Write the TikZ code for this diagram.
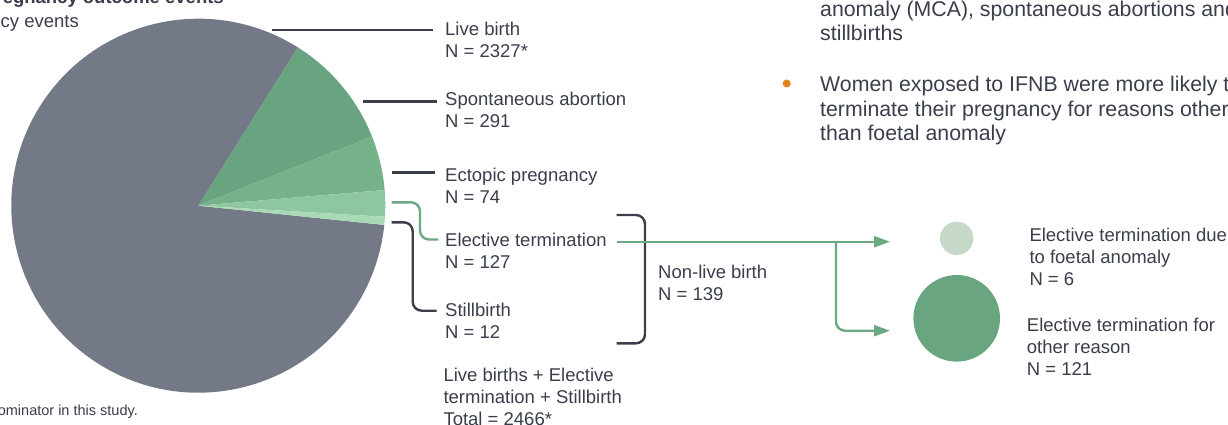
\documentclass[tikz,border=0pt]{standalone}
\usepackage{fontspec}
\setmainfont{Liberation Sans}
\usetikzlibrary{arrows.meta}
\definecolor{textGrey}{HTML}{3A3E4C}
\definecolor{lineGrey}{HTML}{3B3F4C}
\definecolor{lineGreen}{HTML}{6AA981}
\definecolor{pieGrey}{HTML}{737986}
\definecolor{pieGreenA}{HTML}{68A47F}
\definecolor{pieGreenB}{HTML}{75B28A}
\definecolor{pieGreenC}{HTML}{8EC79F}
\definecolor{pieGreenD}{HTML}{A7DAB5}
\definecolor{dotLight}{HTML}{C6D8C7}
\definecolor{dotDark}{HTML}{69A680}
\definecolor{bulletOrange}{HTML}{E5811C}

\begin{document}
\begin{tikzpicture}[x=1pt, y=-1pt,
    labelStyle/.style={anchor=north west, inner sep=0pt, align=left, text=textGrey, font=\fontsize{18.5}{21.7}\selectfont},
    bulletStyle/.style={anchor=north west, inner sep=0pt, align=left, text=textGrey, font=\fontsize{21.3}{24.5}\selectfont},
    leaderStyle/.style={draw=lineGrey, line width=2.4pt},
    greenStyle/.style={draw=lineGreen, line width=2.4pt},
    arrowStyle/.style={greenStyle, -{Triangle[length=16pt, width=11pt]}},
    dotStyle/.style={circle, inner sep=0pt}]
    \useasboundingbox (0,0) rectangle (1228,425);
    \clip (0,0) rectangle (1228,425);

    % pie
    \begin{scope}[shift={(198.3,205.7)}, x=1pt, y=1pt]
        \fill[pieGrey]   (0,0) -- (57.8:187pt) arc[start angle=57.8, end angle=354.1, radius=187pt] -- cycle;
        \fill[pieGreenA] (0,0) -- (21.7:187pt) arc[start angle=21.7, end angle=57.8, radius=187pt] -- cycle;
        \fill[pieGreenB] (0,0) -- (4.8:187pt)  arc[start angle=4.8, end angle=21.7, radius=187pt] -- cycle;
        \fill[pieGreenC] (0,0) -- (-3.4:187pt) arc[start angle=-3.4, end angle=4.8, radius=187pt] -- cycle;
        \fill[pieGreenD] (0,0) -- (-5.9:187pt) arc[start angle=-5.9, end angle=-3.4, radius=187pt] -- cycle;
    \end{scope}

    \node[anchor=base east, inner sep=0pt, text=textGrey, font=\fontsize{18.5}{21.7}\selectfont\bfseries] (title) at (224,3.3) {Pregnancy outcome events};
    \node[anchor=base east, inner sep=0pt, text=textGrey, font=\fontsize{18.5}{21.7}\selectfont] (subtitle) at (79,27.3) {Pregnancy events};
    \node[anchor=base east, inner sep=0pt, text=textGrey, font=\fontsize{14.5}{16}\selectfont] (note) at (138,415) {denominator in this study.};

    % labels
    \node[labelStyle] (live_lbl)  at (445,21.7)    {Live birth\\N = 2327*};
    \node[labelStyle] (spont_lbl) at (445,91.7)    {Spontaneous abortion\\N = 291};
    \node[labelStyle] (ecto_lbl)  at (445,168.3)   {Ectopic pregnancy\\N = 74};
    \node[labelStyle] (elec_lbl)  at (445,233.3)   {Elective termination\\N = 127};
    \node[labelStyle] (still_lbl) at (445,302.7)   {Stillbirth\\N = 12};
    \node[labelStyle] (nonlive_lbl) at (658,265)   {Non-live birth\\N = 139};
    \node[labelStyle] (total_lbl) at (443.3,368.3) {Live births + Elective\\termination + Stillbirth\\Total = 2466*};

    \coordinate (live_S)  at (272,30);    \coordinate (live_E)  at (433.3,30);
    \coordinate (spont_S) at (363.3,101.7); \coordinate (spont_E) at (436.7,101.7);
    \coordinate (ecto_S)  at (391.7,172.3); \coordinate (ecto_E)  at (435,172.3);
    \coordinate (elec_S)  at (391.7,202.3); \coordinate (elec_E)  at (438.3,239.5);
    \coordinate (still_S) at (391.7,222.3); \coordinate (still_E) at (436.7,310.7);

    \draw[leaderStyle] (live_S) -- (live_E);
    \draw[leaderStyle] (spont_S) -- (spont_E);
    \draw[leaderStyle] (ecto_S) -- (ecto_E);
    \draw[greenStyle, rounded corners=9pt] (elec_S) -- (420,202.3) -- (420,239.5) -- (elec_E);
    \draw[leaderStyle, rounded corners=9pt] (still_S) -- (412.7,222.3) -- (412.7,310.7) -- (still_E);

    % bracket
    \coordinate (brace_T) at (616.7,215);
    \coordinate (brace_B) at (616.7,343.3);
    \draw[leaderStyle, rounded corners=9pt] (brace_T) -- (645,215) -- (645,343.3) -- (brace_B);

    % split of elective termination
    \node[dotStyle, fill=dotLight, minimum size=33.4pt] (anom_dot)  at (956.7,238.3) {};
    \node[dotStyle, fill=dotDark, minimum size=86.6pt]  (other_dot) at (956.7,318.3) {};
    \node[labelStyle] (anom_lbl)  at (1029.3,228.3) {Elective termination due\\to foetal anomaly\\N = 6};
    \node[labelStyle] (other_lbl) at (1026.7,318.3) {Elective termination for\\other reason\\N = 121};

    \coordinate (elec_out) at (616.7,241.7);
    \coordinate (split)    at (836,241.7);
    \coordinate (anom_in)  at (890,241.7);
    \coordinate (other_in) at (890,330.7);
    \draw[arrowStyle] (elec_out) -- (anom_in);
    \draw[arrowStyle, rounded corners=9pt] (split) |- (other_in);

    % bullets
    \node[bulletStyle] (bullet_1) at (820,0.5) {anomaly (MCA), spontaneous abortions and\\stillbirths};
    \node[dotStyle, fill=bulletOrange, minimum size=8pt] (bullet_2_dot) at (786.7,83.5) {};
    \node[bulletStyle] (bullet_2) at (820,76) {Women exposed to IFNB were more likely to\\terminate their pregnancy for reasons other\\than foetal anomaly};
\end{tikzpicture}
\end{document}
